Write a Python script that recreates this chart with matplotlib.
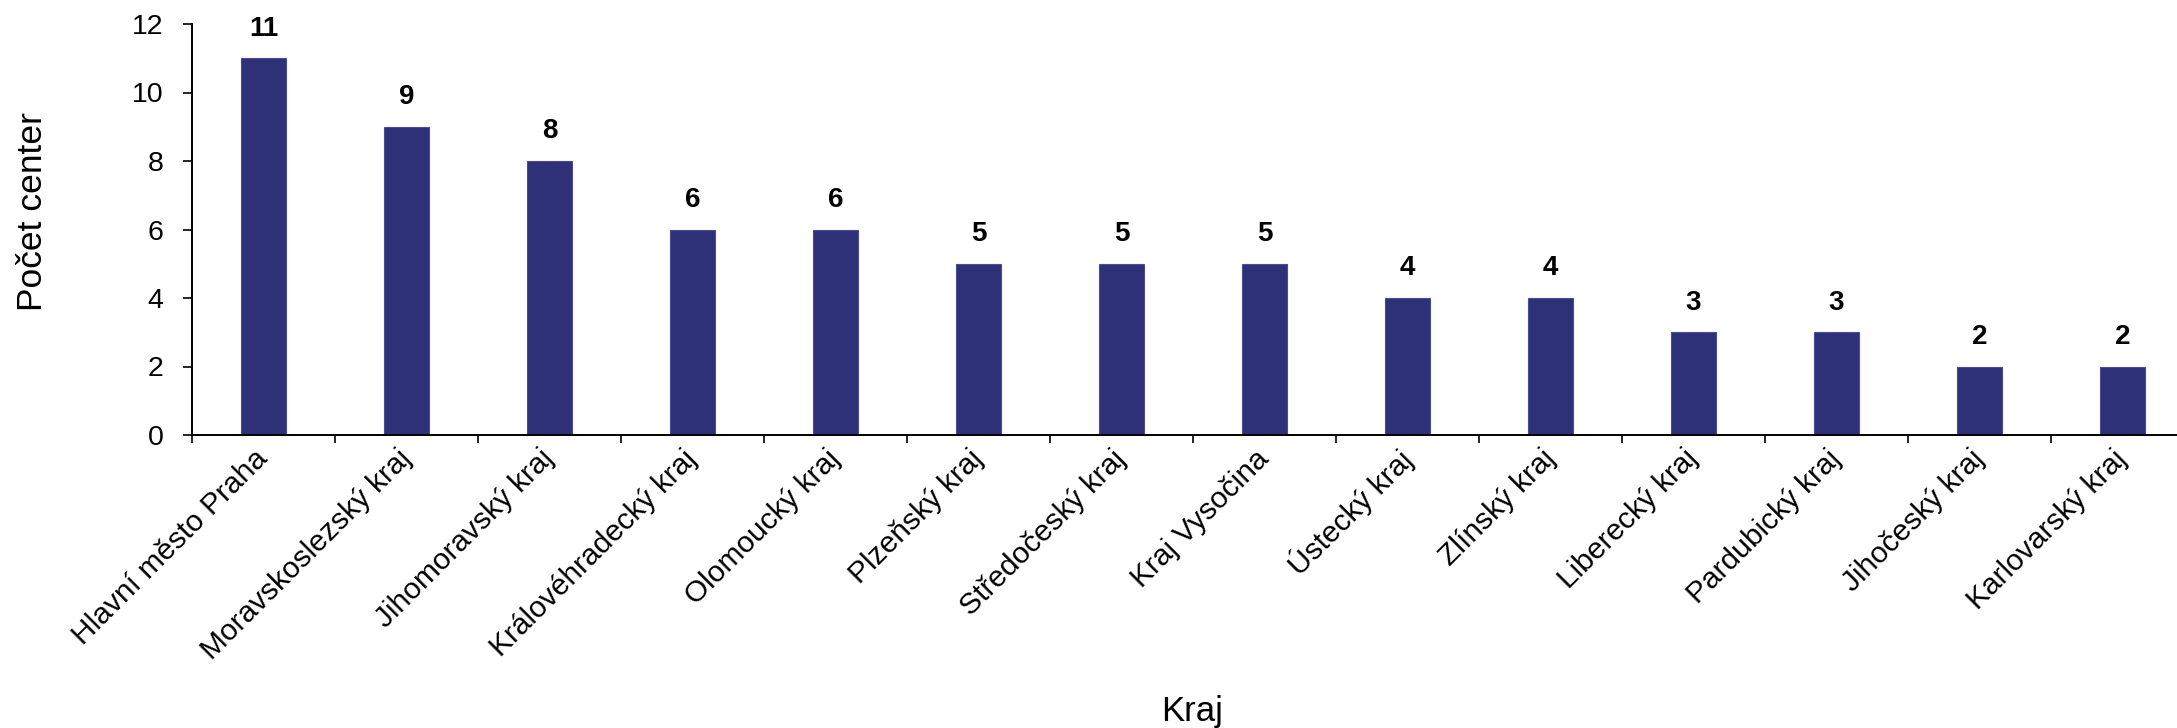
import matplotlib
matplotlib.use('Agg')
import matplotlib.pyplot as plt
import numpy as np

# data
kraje = ['Hlavní město Praha', 'Moravskoslezský kraj', 'Jihomoravský kraj',
         'Královéhradecký kraj', 'Olomoucký kraj', 'Plzeňský kraj',
         'Středočeský kraj', 'Kraj Vysočina', 'Ústecký kraj', 'Zlínský kraj',
         'Liberecký kraj', 'Pardubický kraj', 'Jihočeský kraj', 'Karlovarský kraj']
pocet = [11, 9, 8, 6, 6, 5, 5, 5, 4, 4, 3, 3, 2, 2]
y_ticks = [0, 2, 4, 6, 8, 10, 12]

plt.rcParams['font.family'] = ['Liberation Sans', 'DejaVu Sans']

fig = plt.figure(figsize=(21.77, 7.28), dpi=100)
ax = fig.add_axes([192/2177, 1 - 435/728, 2002/2177, 411/728])

x = np.arange(len(kraje))
ax.bar(x, pocet, width=0.315, color='#2e3078', edgecolor='#4a4d90', linewidth=0.8)

# value labels above bars
for xi, v in zip(x, pocet):
    ax.annotate(str(v), (xi, v), xytext=(0, 12), textcoords='offset points',
                ha='center', va='bottom', fontsize=20, fontweight='bold')

ax.set_xlim(-0.5, len(kraje) - 0.5)
ax.set_ylim(0, 12)
ax.set_yticks(y_ticks)
ax.tick_params(axis='y', labelsize=20.5, length=6.5, width=1.2, pad=14)

ax.set_xticks(x)
ax.set_xticklabels(kraje, rotation=45, ha='right', va='center', rotation_mode='anchor', fontsize=21.5)
ax.tick_params(axis='x', which='major', length=0, pad=14)
ax.set_xticks(np.arange(-0.5, len(kraje)), minor=True)
ax.tick_params(axis='x', which='minor', length=6, width=1.2)

for s in ['top', 'right']:
    ax.spines[s].set_visible(False)
for s in ['left', 'bottom']:
    ax.spines[s].set_linewidth(1.4)

ax.set_ylabel('Počet center', fontsize=25.5)
ax.yaxis.set_label_coords(-0.0714, 0.543)
ax.set_xlabel('Kraj', fontsize=25)
ax.xaxis.set_label_coords(0.4995, -0.633)
ax.xaxis.label.set_va('top')

plt.savefig('out.png', dpi=100)
